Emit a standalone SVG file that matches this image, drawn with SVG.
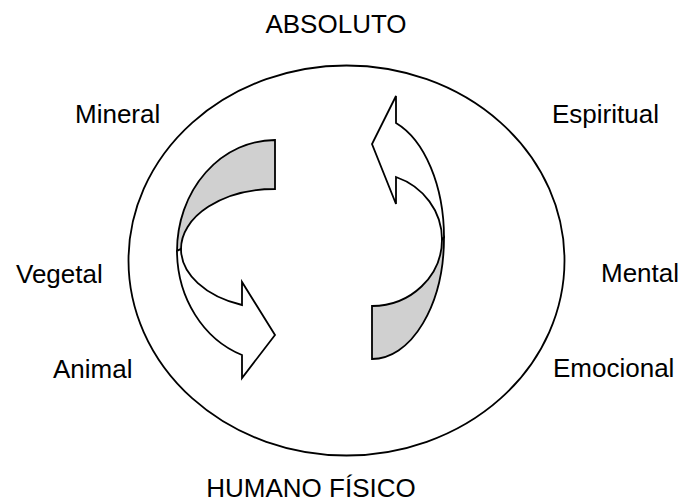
<svg xmlns="http://www.w3.org/2000/svg" width="684" height="503" viewBox="0 0 684 503">
<style>
.t{font-family:"Liberation Sans",Arial,sans-serif;font-size:26px;fill:#000}
.o{fill:#fff;stroke:#000;stroke-width:1.8;stroke-linejoin:miter}
.s{fill:#d0d0d0;stroke:#000;stroke-width:1.8}
</style>
<rect width="684" height="503" fill="#fff"/>
<g id="circle"><ellipse cx="346.5" cy="260.5" rx="218" ry="195" fill="none" stroke="#000" stroke-width="1.8"/></g>
<g id="connectors">
<g id="arrow-left">
<path class="s" d="M275,140 A98,111 0 0 0 177,251 L181,249 A94,60 0 0 1 275,189 Z"/>
<path class="o" d="M177,251 A98,111 0 0 0 242,355 L242,378 L275,335 L242,282 L242,305 A94,60 0 0 1 181,249 Z"/>
</g>
<g id="arrow-right">
<path class="s" d="M444,237.5 A72,121.5 0 0 1 372,359 L372,306 A70,66.5 0 0 0 442,239.5 Z"/>
<path class="o" d="M444,237.5 A72,121.5 0 0 0 396,123 L396,96 L372,144 L396,204 L396,177 A70,66.5 0 0 1 442,239.5 Z"/>
</g>
</g>
<g id="absoluto"><text class="t" x="336" y="33" text-anchor="middle">ABSOLUTO</text></g>
<g id="mineral"><text class="t" x="75" y="123">Mineral</text></g>
<g id="vegetal"><text class="t" x="16" y="283">Vegetal</text></g>
<g id="animal"><text class="t" x="53" y="378">Animal</text></g>
<g id="espiritual"><text class="t" x="552" y="123">Espiritual</text></g>
<g id="mental"><text class="t" x="601" y="282">Mental</text></g>
<g id="emocional"><text class="t" x="553" y="377">Emocional</text></g>
<g id="humano"><text class="t" x="311" y="497" text-anchor="middle">HUMANO FÍSICO</text></g>
</svg>
